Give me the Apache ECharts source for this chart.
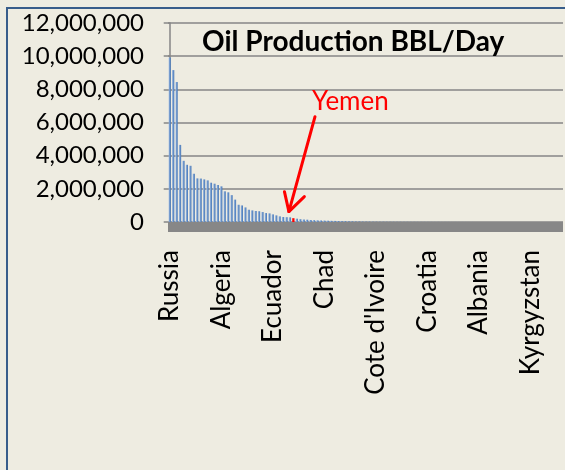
<!DOCTYPE html>
<html>
<head>
<meta charset="utf-8">
<script src="https://cdn.jsdelivr.net/npm/echarts@6/dist/echarts.min.js"></script>
<style>
  html, body { margin: 0; padding: 0; background: #eeece1; }
  #chart { width: 565px; height: 470px; }
</style>
</head>
<body>
<div id="chart"></div>
<script>
// Oil producers, ranked by daily output
const countries = [
  'Russia', 'Saudi Arabia', 'United States', 'Iran', 'China', 'Canada', 'Mexico', 'United Arab Emirates',
  'Brazil', 'Kuwait', 'Venezuela', 'Iraq', 'Norway', 'Nigeria', 'Angola', 'Algeria',
  'Libya', 'Kazakhstan', 'Qatar', 'United Kingdom', 'Indonesia', 'Azerbaijan', 'India', 'Oman',
  'Argentina', 'Malaysia', 'Egypt', 'Colombia', 'Australia', 'Syria', 'Ecuador', 'Sudan',
  'Vietnam', 'Equatorial Guinea', 'Denmark', 'Congo', 'Yemen', 'Gabon', 'Thailand', 'Brunei',
  'Turkmenistan', 'Trinidad and Tobago', 'Peru', 'Germany', 'Romania', 'Chad', 'Italy', 'Uzbekistan',
  'Tunisia', 'Cameroon', 'Turkey', 'Ukraine', 'Pakistan', 'France', 'Netherlands', 'Bahrain',
  'Belarus', 'Mauritania', 'Papua New Guinea', 'Bolivia', "Cote d'Ivoire", 'New Zealand', 'Philippines', 'Cuba',
  'Austria', 'Japan', 'South Africa', 'Hungary', 'Poland', 'Burma', 'Guatemala', 'Spain',
  'Bangladesh', 'Serbia', 'Taiwan', 'Croatia', 'Democratic Republic of the Congo', 'Suriname', 'Georgia', 'Chile',
  'Lithuania', 'Ghana', 'Barbados', 'Czech Republic', 'Bulgaria', 'Greece', 'Tajikistan', 'Belize',
  'Israel', 'Slovakia', 'Albania', 'Mongolia', 'Estonia', 'Morocco', 'Jordan', 'Benin',
  'Slovenia', 'Ireland', 'Belgium', 'Sweden', 'Finland', 'Portugal', 'Senegal', 'Montenegro',
  'Armenia', 'Kyrgyzstan', 'Switzerland', 'Latvia', 'Luxembourg', 'Singapore', 'South Korea', 'Kenya',
  'Sri Lanka', 'Uruguay', 'Zambia'
];

// Barrels per day
const production = [
  9920000, 9160000, 8440000, 4650000, 3690000, 3450000, 3390000, 2910000,
  2630000, 2620000, 2570000, 2510000, 2370000, 2310000, 2230000, 2150000,
  1850000, 1790000, 1620000, 1350000, 1040000, 1000000, 880000, 740000,
  700000, 665000, 650000, 600000, 540000, 520000, 460000, 400000,
  340000, 300000, 290000, 280000, 230000, 200000, 170000, 150000,
  140000, 120000, 110000, 100000, 92000, 85000, 78000, 71000,
  66000, 58000, 52000, 47000, 43000, 37000, 32000, 28000,
  24000, 21000, 19500, 17000, 15000, 14200, 13000, 12100,
  11000, 10200, 9400, 9000, 8300, 7800, 7300, 6600,
  6200, 5800, 5300, 5000, 4700, 4300, 4100, 3800,
  3500, 3300, 3000, 2800, 2600, 2400, 2200, 2000,
  1900, 1800, 1700, 1600, 1500, 1400, 1300, 1200,
  1100, 1000, 950, 900, 850, 800, 750, 700,
  650, 600, 550, 500, 450, 400, 350, 300,
  250, 200, 150
];

const highlightCountry = 'Yemen';

// Value axis ticks
const yMin = 0;
const yMax = 12000000;
const yStep = 2000000;

// Annotation arrow, in (category position, barrels/day)
const arrowShaft = [[42.3, 6350000], [34.7, 630000]];
const arrowHead = [[33.4, 1830000], [34.7, 630000], [39.2, 1530000]];

const FONT = 'Lato, "Open Sans", sans-serif';

const barData = countries.map((name, i) => ({
  value: production[i],
  itemStyle: name === highlightCountry ? { color: '#ff0000' } : undefined
}));

const chart = echarts.init(document.getElementById('chart'), null, { renderer: 'canvas' });

chart.setOption({
  animation: false,
  backgroundColor: '#eeece1',
  title: [
    {
      text: 'Oil Production BBL/Day',
      left: 202, top: 28, padding: 0,
      textStyle: { fontFamily: FONT, fontWeight: 'bold', fontSize: 28, color: '#000' }
    },
    {
      text: highlightCountry,
      left: 312, top: 89, padding: 0,
      textStyle: { fontFamily: FONT, fontWeight: 'normal', fontSize: 26, color: '#ff0000' }
    }
  ],
  graphic: [
    {
      type: 'rect', z: 100, silent: true,
      shape: { x: 7, y: 8, width: 700, height: 600 },
      style: { fill: null, stroke: '#385d8a', lineWidth: 2 }
    }
  ],
  grid: {
    left: 168, top: 23, right: 2, bottom: 248,
    containLabel: false, outerBoundsMode: 'none'
  },
  xAxis: [
    {
      type: 'category',
      data: countries,
      position: 'bottom',
      offset: 5,
      boundaryGap: true,
      axisLine: { show: true, onZero: false, lineStyle: { color: '#878787', width: 10, cap: 'butt' } },
      axisTick: { show: false },
      axisLabel: {
        interval: 14, rotate: 90, margin: 23, hideOverlap: false,
        fontFamily: FONT, fontSize: 26, color: '#000'
      },
      splitLine: { show: false }
    },
    {
      type: 'value', min: -0.5, max: countries.length - 0.5, show: false,
      splitLine: { show: false }
    }
  ],
  yAxis: {
    type: 'value',
    min: yMin, max: yMax, interval: yStep,
    axisLine: { show: true, lineStyle: { color: '#868686', width: 1.5 } },
    axisTick: { show: true, inside: false, length: 6, lineStyle: { color: '#868686', width: 1.5 } },
    splitLine: { show: true, lineStyle: { color: '#868686', width: 1.5 } },
    axisLabel: {
      margin: 24, fontFamily: FONT, fontSize: 24, color: '#000',
      formatter: v => v.toLocaleString('en-US')
    }
  },
  series: [
    {
      type: 'bar',
      xAxisIndex: 0,
      data: barData,
      barCategoryGap: '34%',
      itemStyle: {
        color: new echarts.graphic.LinearGradient(0, 0, 1, 0, [
          { offset: 0, color: '#b4c8e4' },
          { offset: 0.45, color: '#6f97cc' },
          { offset: 1, color: '#4677b5' }
        ])
      },
      silent: true,
      z: 2
    },
    {
      type: 'line',
      xAxisIndex: 1,
      data: arrowShaft,
      symbol: 'none',
      silent: true,
      lineStyle: { color: '#ff0000', width: 3, cap: 'round' },
      z: 5
    },
    {
      type: 'line',
      xAxisIndex: 1,
      data: arrowHead,
      symbol: 'none',
      silent: true,
      lineStyle: { color: '#ff0000', width: 3, cap: 'round', join: 'round' },
      z: 5
    }
  ]
});
</script>
</body>
</html>
